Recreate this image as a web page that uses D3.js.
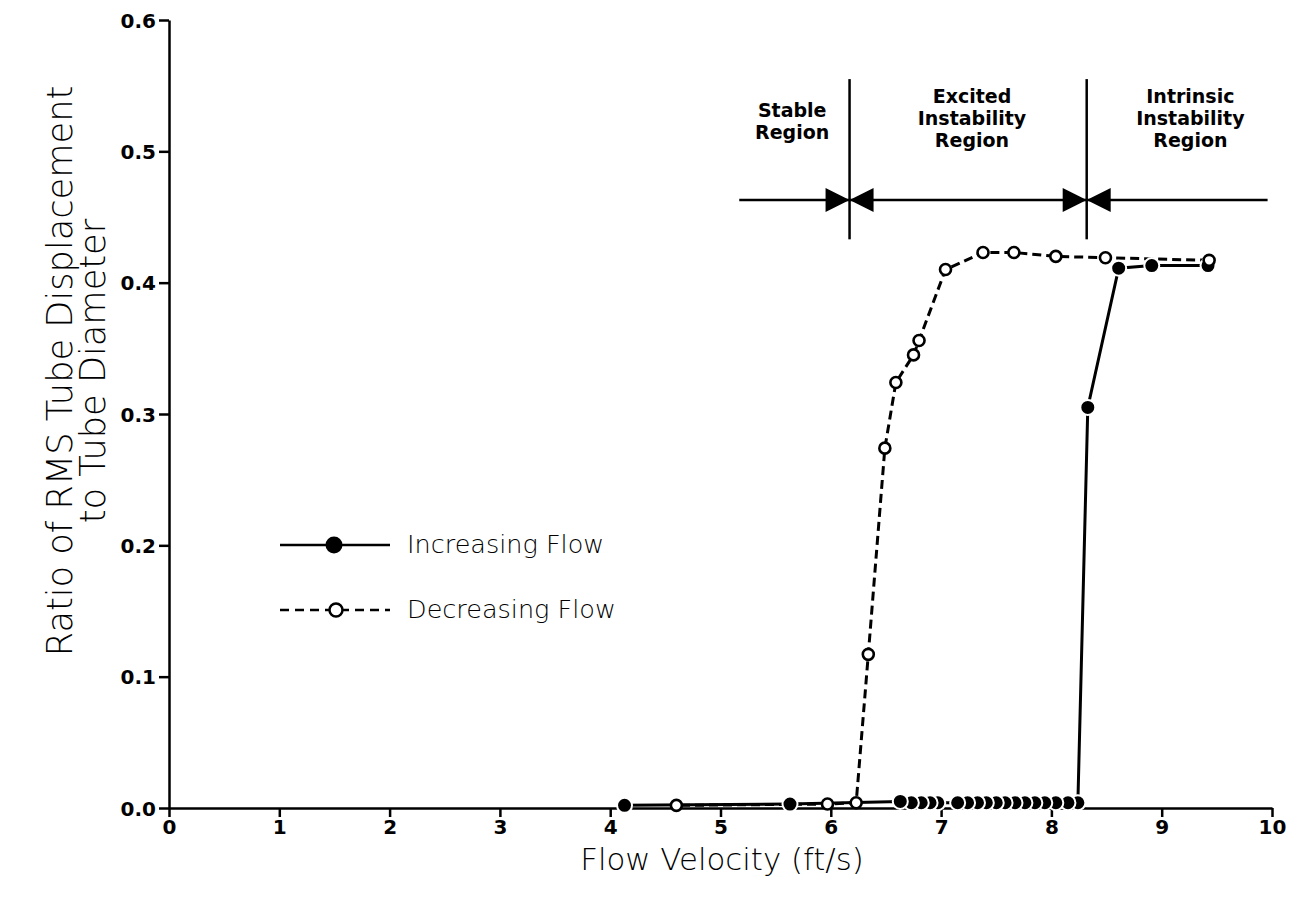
<!DOCTYPE html>
<html>
<head>
<meta charset="utf-8">
<script src="https://cdn.jsdelivr.net/npm/d3@7"></script>
<style>
  body { margin: 0; background: #fff; }
  svg { display: block; }
  .tick text { font-family: "DejaVu Sans", sans-serif; font-weight: bold; font-size: 20px; fill: #000; }
  .title { font-family: "DejaVu Sans", sans-serif; font-weight: 200; font-size: 28px; fill: #000; }
  .region { font-family: "DejaVu Sans", sans-serif; font-weight: bold; font-size: 19px; fill: #000; }
  .legend { font-family: "DejaVu Sans", sans-serif; font-weight: 200; font-size: 22px; fill: #000; }
</style>
</head>
<body>
<div id="chart"></div>
<script>
// Increasing flow (filled circles, solid line)
const incX = [4.13, 5.63, 6.63, 6.73, 6.82, 6.90, 6.97, 7.15, 7.24, 7.33, 7.41, 7.50, 7.58, 7.67, 7.76, 7.85, 7.94, 8.04, 8.15, 8.24, 8.33, 8.61, 8.91, 9.42];
const incY = [0.002, 0.003, 0.005, 0.004, 0.004, 0.004, 0.004, 0.004, 0.004, 0.004, 0.004, 0.004, 0.004, 0.004, 0.004, 0.004, 0.004, 0.004, 0.004, 0.004, 0.305, 0.411, 0.413, 0.413];

// Decreasing flow (open circles, dashed line)
const decX = [9.43, 8.49, 8.04, 7.66, 7.38, 7.04, 6.80, 6.75, 6.59, 6.49, 6.34, 6.23, 5.97, 4.60];
const decY = [0.417, 0.419, 0.420, 0.423, 0.423, 0.410, 0.356, 0.345, 0.324, 0.274, 0.117, 0.004, 0.003, 0.002];

const xTicks = [0, 1, 2, 3, 4, 5, 6, 7, 8, 9, 10];
const yTicks = [0.0, 0.1, 0.2, 0.3, 0.4, 0.5, 0.6];

// Region dividers and labels
const dividers = [6.17, 8.32];
const dividerTop = 0.555, dividerBottom = 0.433;
const arrowY = 0.463;
const arrowSpan = [5.17, 9.96];
const regionX = [5.65, 7.28, 9.26];
const regionLines = [["Stable", "Region"], ["Excited", "Instability", "Region"], ["Intrinsic", "Instability", "Region"]];

const W = 1293, H = 903;
const svg = d3.select("#chart").append("svg")
  .attr("width", W)
  .attr("height", H);

const x = d3.scaleLinear().domain([0, 10]).range([169, 1272]);
const y = d3.scaleLinear().domain([0, 0.6]).range([808, 20]);

// shrink/grow a text's font size so it spans the wanted width
function fitWidth(sel, target) {
  const node = sel.node();
  const fs = parseFloat(getComputedStyle(node).fontSize);
  const w = node.getComputedTextLength();
  sel.style("font-size", (fs * target / w).toFixed(1) + "px");
}

// Axes
const xAxis = d3.axisBottom(x).tickValues(xTicks).tickFormat(d3.format("d")).tickSize(9).tickSizeOuter(0).tickPadding(3);
const yAxis = d3.axisLeft(y).tickValues(yTicks).tickFormat(d3.format(".1f")).tickSize(10).tickSizeOuter(0).tickPadding(3);

const gx = svg.append("g").attr("transform", `translate(0,${y(0)})`).call(xAxis);
const gy = svg.append("g").attr("transform", `translate(${x(0)},0)`).call(yAxis);
[gx, gy].forEach(g => {
  g.select(".domain").attr("stroke", "#000").attr("stroke-width", 2.5);
  g.selectAll(".tick line").attr("stroke", "#000").attr("stroke-width", 2.5);
});
gy.selectAll(".tick text").attr("dy", "0.36em");

// Axis titles
const xt = svg.append("text").attr("class", "title")
  .attr("x", 722).attr("y", 870)
  .attr("text-anchor", "middle")
  .text("Flow Velocity (ft/s)");
fitWidth(xt, 284);

const yt = svg.append("g").attr("transform", "translate(72,371) rotate(-90)");
const yt1 = yt.append("text").attr("class", "title").attr("text-anchor", "middle")
  .attr("y", 0).text("Ratio of RMS Tube Displacement");
fitWidth(yt1, 570);
const yt2 = yt.append("text").attr("class", "title").attr("text-anchor", "middle")
  .attr("y", 33).text("to Tube Diameter");
yt2.style("font-size", yt1.style("font-size"));

// Region annotation
svg.append("line")
  .attr("x1", x(arrowSpan[0])).attr("x2", x(arrowSpan[1]))
  .attr("y1", y(arrowY)).attr("y2", y(arrowY))
  .attr("stroke", "#000").attr("stroke-width", 2.5);

dividers.forEach(d => {
  svg.append("line")
    .attr("x1", x(d)).attr("x2", x(d))
    .attr("y1", y(dividerTop)).attr("y2", y(dividerBottom))
    .attr("stroke", "#000").attr("stroke-width", 2.5);
  const cx = x(d), cy = y(arrowY);
  // bow-tie: two triangles pointing at the divider
  svg.append("path")
    .attr("d", `M${cx - 24},${cy - 12}L${cx},${cy}L${cx - 24},${cy + 12}Z`)
    .attr("fill", "#000");
  svg.append("path")
    .attr("d", `M${cx + 24},${cy - 12}L${cx},${cy}L${cx + 24},${cy + 12}Z`)
    .attr("fill", "#000");
});

regionLines.forEach((lines, i) => {
  const t = svg.append("text").attr("class", "region")
    .attr("text-anchor", "middle")
    .attr("x", x(regionX[i]))
    .attr("y", lines.length === 2 ? 117 : 103);
  lines.forEach((s, j) => {
    t.append("tspan").attr("x", x(regionX[i])).attr("dy", j === 0 ? 0 : 22).text(s);
  });
});

// Data
const inc = incX.map((v, i) => ({ x: v, y: incY[i] }));
const dec = decX.map((v, i) => ({ x: v, y: decY[i] }));

const line = d3.line().x(d => x(d.x)).y(d => y(d.y));

svg.append("path")
  .attr("d", line(inc))
  .attr("fill", "none")
  .attr("stroke", "#000")
  .attr("stroke-width", 3);

svg.append("path")
  .attr("d", line(dec))
  .attr("fill", "none")
  .attr("stroke", "#000")
  .attr("stroke-width", 3)
  .attr("stroke-dasharray", "9,5");

// filled circles drawn right-to-left so the white rim cuts crescents
svg.append("g").selectAll("circle")
  .data(inc.slice().reverse())
  .join("circle")
    .attr("cx", d => x(d.x))
    .attr("cy", d => y(d.y))
    .attr("r", 7.5)
    .attr("fill", "#000")
    .attr("stroke", "#fff")
    .attr("stroke-width", 2);

svg.append("g").selectAll("circle")
  .data(dec)
  .join("circle")
    .attr("cx", d => x(d.x))
    .attr("cy", d => y(d.y))
    .attr("r", 5.5)
    .attr("fill", "#fff")
    .attr("stroke", "#000")
    .attr("stroke-width", 2.6);

// Legend
const legend = svg.append("g");
legend.append("line").attr("x1", 280).attr("x2", 390).attr("y1", 545).attr("y2", 545)
  .attr("stroke", "#000").attr("stroke-width", 2.5);
legend.append("circle").attr("cx", 334).attr("cy", 545).attr("r", 8.5).attr("fill", "#000");
const l1 = legend.append("text").attr("class", "legend").attr("x", 407).attr("y", 553).text("Increasing Flow");

legend.append("line").attr("x1", 280).attr("x2", 390).attr("y1", 610).attr("y2", 610)
  .attr("stroke", "#000").attr("stroke-width", 2.5).attr("stroke-dasharray", "9,6");
legend.append("circle").attr("cx", 336).attr("cy", 610).attr("r", 6.5)
  .attr("fill", "#fff").attr("stroke", "#000").attr("stroke-width", 2.5);
const l2 = legend.append("text").attr("class", "legend").attr("x", 407).attr("y", 618).text("Decreasing Flow");
fitWidth(l2, 209);
l1.style("font-size", l2.style("font-size"));
</script>
</body>
</html>
